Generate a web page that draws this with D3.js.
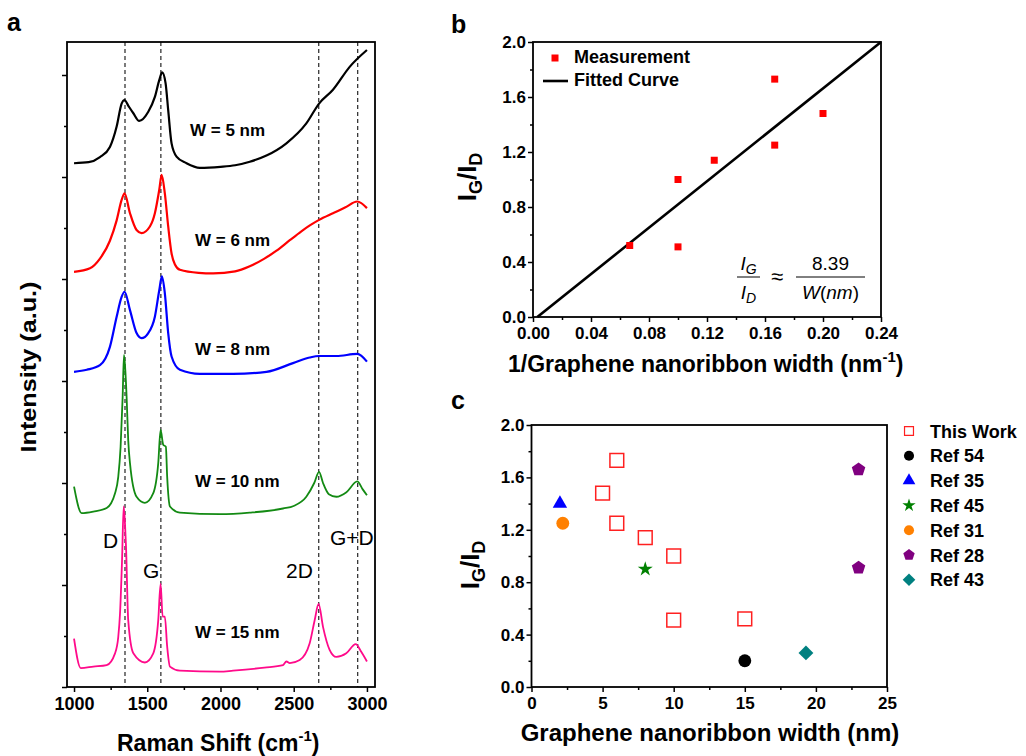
<!DOCTYPE html>
<html>
<head>
<meta charset="utf-8">
<script src="https://cdn.jsdelivr.net/npm/d3@7"></script>
<style>
  body { margin: 0; background: #fff; }
  svg { display: block; }
  text { font-family: "Liberation Sans", Arial, sans-serif; fill: #000; }
</style>
</head>
<body>
<div id="fig"></div>
<script>
// ---- Panel a: Raman spectra [shift (cm-1), intensity (a.u., offset as plotted)]
const specW5 = [[1000,10.27],[1100,10.29],[1177,10.39],[1245,10.59],[1291,10.99],[1325,11.44],[1345,11.51],[1370,11.40],[1405,11.25],[1445,11.10],[1507,11.28],[1552,11.57],[1582,11.90],[1602,12.05],[1625,11.84],[1643,11.31],[1666,10.66],[1700,10.40],[1768,10.27],[1859,10.18],[2000,10.20],[2100,10.23],[2200,10.30],[2314,10.42],[2450,10.66],[2586,11.05],[2673,11.44],[2768,11.71],[2882,12.16],[3000,12.49]];
const specW6 = [[1000,8.14],[1109,8.21],[1177,8.40],[1245,8.75],[1291,9.15],[1325,9.55],[1345,9.68],[1382,9.29],[1427,8.96],[1461,8.90],[1518,9.03],[1552,9.29],[1582,9.75],[1598,10.04],[1620,9.68],[1643,9.03],[1666,8.50],[1690,8.28],[1723,8.18],[1850,8.12],[1950,8.11],[2100,8.15],[2200,8.25],[2300,8.40],[2380,8.55],[2473,8.76],[2550,8.93],[2610,9.05],[2673,9.16],[2768,9.29],[2850,9.40],[2934,9.52],[3000,9.39]];
const specW8 = [[1000,6.18],[1087,6.22],[1177,6.31],[1245,6.67],[1291,7.26],[1325,7.65],[1345,7.75],[1382,7.39],[1427,6.94],[1461,6.84],[1507,6.94],[1552,7.26],[1582,7.78],[1600,8.05],[1620,7.72],[1643,6.94],[1666,6.48],[1723,6.22],[1859,6.14],[2086,6.14],[2314,6.18],[2495,6.35],[2609,6.46],[2673,6.49],[2791,6.49],[2934,6.53],[3000,6.38]];
const specW10 = [[1000,3.93],[1052,3.41],[1132,3.44],[1223,3.51],[1280,3.80],[1302,4.12],[1318,4.71],[1332,5.69],[1341,6.51],[1350,6.22],[1359,5.69],[1370,4.84],[1382,4.39],[1427,3.73],[1484,3.61],[1541,3.80],[1575,4.39],[1591,5.04],[1609,4.75],[1627,4.71],[1636,4.12],[1655,3.54],[1723,3.42],[1995,3.39],[2200,3.42],[2427,3.50],[2500,3.55],[2586,3.73],[2640,4.00],[2673,4.22],[2700,4.00],[2740,3.78],[2791,3.73],[2860,3.82],[2934,4.03],[2970,3.88],[3000,3.76]];
const specW15 = [[1000,0.95],[1046,0.37],[1132,0.40],[1223,0.43],[1280,0.66],[1302,0.98],[1314,1.44],[1328,2.50],[1339,3.54],[1348,3.20],[1355,2.75],[1370,1.31],[1405,0.66],[1484,0.48],[1541,0.66],[1575,1.31],[1591,2.02],[1605,1.38],[1620,1.38],[1636,0.79],[1655,0.40],[1723,0.32],[1995,0.30],[2086,0.32],[2300,0.38],[2427,0.43],[2450,0.50],[2473,0.47],[2541,0.53],[2609,0.86],[2643,1.31],[2670,1.63],[2700,1.18],[2745,0.73],[2791,0.59],[2859,0.66],[2923,0.84],[2961,0.69],[3000,0.50]];
const spectraLabels = ["W = 5 nm", "W = 6 nm", "W = 8 nm", "W = 10 nm", "W = 15 nm"];
const peakShifts = [1348, 1593, 2671, 2937];
const peakNames = ["D", "G", "2D", "G+D"];
const ramanTicks = [1000, 1500, 2000, 2500, 3000];

// ---- Panel b: IG/ID vs 1/width
const invWidth = [0.0667, 0.1, 0.1, 0.125, 0.1667, 0.1667, 0.2];
const ratioMeas = [0.52, 0.51, 1.0, 1.14, 1.25, 1.73, 1.48];
const fitX = [0.003, 0.24];
const fitY = [0, 2.0];

// ---- Panel c: IG/ID vs width, this work and references
const seriesNames = ["This Work", "Ref 54", "Ref 35", "Ref 45", "Ref 31", "Ref 28", "Ref 43"];
const thisWorkW = [5, 6, 6, 8, 10, 10, 15];
const thisWorkR = [1.48, 1.73, 1.25, 1.14, 1.0, 0.51, 0.52];
const ref54 = [[15, 0.2]];
const ref35 = [[2, 1.4]];
const ref45 = [[8, 0.9]];
const ref31 = [[2.2, 1.25]];
const ref28 = [[23, 1.66], [23, 0.91]];
const ref43 = [[19.3, 0.26]];

const FONT = '"Liberation Sans", Arial, sans-serif';
const svg = d3.select("#fig").append("svg").attr("width", 1026).attr("height", 756);
svg.append("rect").attr("width", 1026).attr("height", 756).attr("fill", "#fff");

// framed axes with major/minor outward ticks
function frame(g, x, y, o) {
  const y0 = y.range()[0], y1 = y.range()[1];
  const x0 = x.range()[0], x1 = x.range()[1];
  const fix = sel => {
    sel.select(".domain").remove();
    sel.selectAll("line").attr("stroke", "#000").attr("stroke-width", 1.5);
    sel.selectAll("text").attr("font-family", FONT).attr("font-weight", "bold")
      .attr("font-size", o.fs).attr("fill", "#000");
  };
  g.append("g").attr("transform", `translate(0,${y0})`)
    .call(d3.axisBottom(x).tickValues(o.xMinor).tickSize(3).tickFormat("")).call(fix);
  g.append("g").attr("transform", `translate(0,${y0})`)
    .call(d3.axisBottom(x).tickValues(o.xMajor).tickSize(5).tickPadding(o.xPad).tickFormat(o.xFmt)).call(fix);
  g.append("g").attr("transform", `translate(${x0},0)`)
    .call(d3.axisLeft(y).tickValues(o.yMinor).tickSize(3).tickFormat("")).call(fix);
  g.append("g").attr("transform", `translate(${x0},0)`)
    .call(d3.axisLeft(y).tickValues(o.yMajor).tickSize(5).tickPadding(2).tickFormat(o.yFmt)).call(fix);
  g.append("rect").attr("x", x0).attr("y", y1).attr("width", x1 - x0).attr("height", y0 - y1)
    .attr("fill", "none").attr("stroke", "#000").attr("stroke-width", 1.8);
}

function panelLetter(t, x, y) {
  svg.append("text").attr("x", x).attr("y", y).attr("font-size", 25).attr("font-weight", "bold").text(t);
}

// ================= Panel a =================
const ga = svg.append("g");
const xa = d3.scaleLinear().domain([952, 3055]).range([67, 375]);
const ya = d3.scaleLinear().domain([0, 645 / 51]).range([687, 42]);
const spectra = [specW5, specW6, specW8, specW10, specW15];
const specColors = ["#000000", "#ff0000", "#0000ff", "#138a13", "#ff0a8a"];
const labelY = [136, 246, 355, 487, 638];

ga.selectAll(".peakline").data(peakShifts).join("line")
  .attr("x1", d => xa(d)).attr("x2", d => xa(d))
  .attr("y1", ya.range()[1]).attr("y2", ya.range()[0])
  .attr("stroke", "#111").attr("stroke-width", 1.1).attr("stroke-dasharray", "4,3");

const line = d3.line().x(d => xa(d[0])).y(d => ya(d[1])).curve(d3.curveMonotoneX);
ga.selectAll(".spec").data(spectra).join("path")
  .attr("d", line).attr("fill", "none")
  .attr("stroke", (d, i) => specColors[i]).attr("stroke-width", (d, i) => i < 3 ? 2.2 : 1.8)
  .attr("stroke-linejoin", "round");

frame(ga, xa, ya, {
  xMajor: ramanTicks, xMinor: d3.range(1250, 3000, 500), xFmt: d3.format("d"), xPad: 5,
  yMajor: d3.range(0, 13, 2), yMinor: d3.range(1, 13, 2), yFmt: "", fs: 18
});

ga.selectAll(".wlab").data(spectraLabels).join("text")
  .attr("x", (d, i) => i === 0 ? 190 : 195).attr("y", (d, i) => labelY[i])
  .attr("font-size", 17).attr("font-weight", "bold").text(d => d);

const peakLabelPos = [[103, 548], [143, 578], [286, 578], [330, 545]];
ga.selectAll(".plab").data(peakNames).join("text")
  .attr("x", (d, i) => peakLabelPos[i][0]).attr("y", (d, i) => peakLabelPos[i][1])
  .attr("font-size", 21).text(d => d);

ga.append("text").attr("transform", "translate(36,367) rotate(-90)")
  .attr("text-anchor", "middle").attr("font-size", 22).attr("font-weight", "bold")
  .attr("textLength", 171).attr("lengthAdjust", "spacingAndGlyphs")
  .text("Intensity (a.u.)");

const ra = ga.append("text").attr("x", 117).attr("y", 751).attr("font-size", 23).attr("font-weight", "bold");
ra.append("tspan").text("Raman Shift (cm");
ra.append("tspan").attr("font-size", 15).attr("dy", -10).text("-1");
ra.append("tspan").attr("dy", 10).text(")");
panelLetter("a", 7, 31);

// ================= Panel b =================
const gb = svg.append("g");
const xb = d3.scaleLinear().domain([0, 0.24]).range([533, 881]);
const yb = d3.scaleLinear().domain([0, 2]).range([317, 42]);

gb.append("path").datum(d3.zip(fitX, fitY))
  .attr("d", d3.line().x(d => xb(d[0])).y(d => yb(d[1])))
  .attr("stroke", "#000").attr("stroke-width", 2.6).attr("fill", "none");

gb.selectAll(".meas").data(d3.zip(invWidth, ratioMeas)).join("rect")
  .attr("x", d => xb(d[0]) - 3.5).attr("y", d => yb(d[1]) - 3.5)
  .attr("width", 7).attr("height", 7).attr("fill", "#ff0000");

frame(gb, xb, yb, {
  xMajor: d3.range(0, 0.2401, 0.04), xMinor: d3.range(0.02, 0.24, 0.04), xFmt: d3.format(".2f"), xPad: 5,
  yMajor: d3.range(0, 2.01, 0.4), yMinor: d3.range(0.2, 2, 0.4), yFmt: d3.format(".1f"), fs: 17
});

// legend b
gb.append("rect").attr("x", 551.5).attr("y", 54.5).attr("width", 7).attr("height", 7).attr("fill", "#ff0000");
gb.append("text").attr("x", 574).attr("y", 63).attr("font-size", 18).attr("font-weight", "bold").text("Measurement");
gb.append("line").attr("x1", 543).attr("x2", 568).attr("y1", 81).attr("y2", 81).attr("stroke", "#000").attr("stroke-width", 2.6);
gb.append("text").attr("x", 574).attr("y", 86).attr("font-size", 18).attr("font-weight", "bold").text("Fitted Curve");

// formula
const SERIF = '"DejaVu Serif", "Liberation Serif", serif';
function frac(g, cx, num, den, w) {
  g.append("line").attr("x1", cx - w / 2).attr("x2", cx + w / 2).attr("y1", 277).attr("y2", 277)
    .attr("stroke", "#000").attr("stroke-width", 1);
  const n = g.append("text").attr("x", cx).attr("y", 270).attr("text-anchor", "middle")
    .attr("font-family", SERIF).attr("font-size", 19);
  num(n);
  const d = g.append("text").attr("x", cx).attr("y", 299).attr("text-anchor", "middle")
    .attr("font-family", SERIF).attr("font-size", 19);
  den(d);
}
const subI = (sub) => t => {
  t.append("tspan").attr("font-style", "italic").text("I");
  t.append("tspan").attr("font-style", "italic").attr("font-size", 14).attr("dy", 4).text(sub);
};
frac(gb, 748.5, subI("G"), subI("D"), 23);
gb.append("text").attr("x", 777).attr("y", 284).attr("text-anchor", "middle")
  .attr("font-family", SERIF).attr("font-size", 22).text("≈");
frac(gb, 830.5, t => t.text("8.39"), t => {
  t.append("tspan").attr("font-style", "italic").text("W");
  t.append("tspan").text("(");
  t.append("tspan").attr("font-style", "italic").text("nm");
  t.append("tspan").text(")");
}, 69);

// axis titles b
const yl = gb.append("text").attr("transform", "translate(476,177) rotate(-90)")
  .attr("text-anchor", "middle").attr("font-size", 26).attr("font-weight", "bold");
yl.append("tspan").text("I");
yl.append("tspan").attr("font-size", 18).attr("dy", 6).text("G");
yl.append("tspan").attr("dy", -6).text("/I");
yl.append("tspan").attr("font-size", 18).attr("dy", 6).text("D");

const xl = gb.append("text").attr("x", 508).attr("y", 372).attr("font-size", 23).attr("font-weight", "bold");
xl.append("tspan").text("1/Graphene nanoribbon width (nm");
xl.append("tspan").attr("font-size", 15).attr("dy", -10).text("-1");
xl.append("tspan").attr("dy", 10).text(")");
panelLetter("b", 451, 33);

// ================= Panel c =================
const gc = svg.append("g");
const xc = d3.scaleLinear().domain([0, 25]).range([531.5, 887]);
const yc = d3.scaleLinear().domain([0, 2]).range([687, 425]);

const pentagon = {
  draw(ctx, size) {
    const r = Math.sqrt(size / 2.378);
    for (let k = 0; k < 5; k++) {
      const a = -Math.PI / 2 + k * 2 * Math.PI / 5;
      if (k === 0) ctx.moveTo(r * Math.cos(a), r * Math.sin(a));
      else ctx.lineTo(r * Math.cos(a), r * Math.sin(a));
    }
    ctx.closePath();
  }
};
const diamond = {
  draw(ctx, size) {
    const r = Math.sqrt(size / 2);
    ctx.moveTo(0, -r); ctx.lineTo(r, 0); ctx.lineTo(0, r); ctx.lineTo(-r, 0); ctx.closePath();
  }
};
const markerStyles = [
  { type: d3.symbolSquare, size: 190, legSize: 80, fill: "none", stroke: "#ff2020" },
  { type: d3.symbolCircle, size: 130, legSize: 80, fill: "#000000" },
  { type: d3.symbolTriangle, size: 90, legSize: 70, fill: "#0000ff" },
  { type: d3.symbolStar, size: 70, legSize: 55, fill: "#008000" },
  { type: d3.symbolCircle, size: 130, legSize: 80, fill: "#ff8000" },
  { type: pentagon, size: 120, legSize: 85, fill: "#800080" },
  { type: diamond, size: 110, legSize: 80, fill: "#008080" }
];
const refData = [d3.zip(thisWorkW, thisWorkR), ref54, ref35, ref45, ref31, ref28, ref43];

refData.forEach((pts, i) => {
  const st = markerStyles[i];
  gc.selectAll(".s" + i).data(pts).join("path")
    .attr("transform", d => `translate(${xc(d[0])},${yc(d[1])})`)
    .attr("d", d3.symbol(st.type, st.size))
    .attr("fill", st.fill).attr("stroke", st.stroke || "none").attr("stroke-width", 1.5);
});

frame(gc, xc, yc, {
  xMajor: d3.range(0, 26, 5), xMinor: d3.range(2.5, 25, 5), xFmt: d3.format("d"), xPad: 5,
  yMajor: d3.range(0, 2.01, 0.4), yMinor: d3.range(0.2, 2, 0.4), yFmt: d3.format(".1f"), fs: 17
});

// legend c
const leg = gc.selectAll(".leg").data(seriesNames).join("g")
  .attr("transform", (d, i) => `translate(909,${431 + i * 24.8})`);
leg.append("path")
  .attr("d", (d, i) => d3.symbol(markerStyles[i].type, markerStyles[i].legSize)())
  .attr("fill", (d, i) => markerStyles[i].fill)
  .attr("stroke", (d, i) => markerStyles[i].stroke || "none").attr("stroke-width", 1.2);
leg.append("text").attr("x", 21).attr("y", 6.5).attr("font-size", 18).attr("font-weight", "bold").text(d => d);

const ylc = gc.append("text").attr("transform", "translate(479,565) rotate(-90)")
  .attr("text-anchor", "middle").attr("font-size", 26).attr("font-weight", "bold");
ylc.append("tspan").text("I");
ylc.append("tspan").attr("font-size", 18).attr("dy", 6).text("G");
ylc.append("tspan").attr("dy", -6).text("/I");
ylc.append("tspan").attr("font-size", 18).attr("dy", 6).text("D");

gc.append("text").attr("x", 710).attr("y", 741).attr("text-anchor", "middle")
  .attr("font-size", 24).attr("font-weight", "bold").text("Graphene nanoribbon width (nm)");
panelLetter("c", 451, 409);
</script>
</body>
</html>
